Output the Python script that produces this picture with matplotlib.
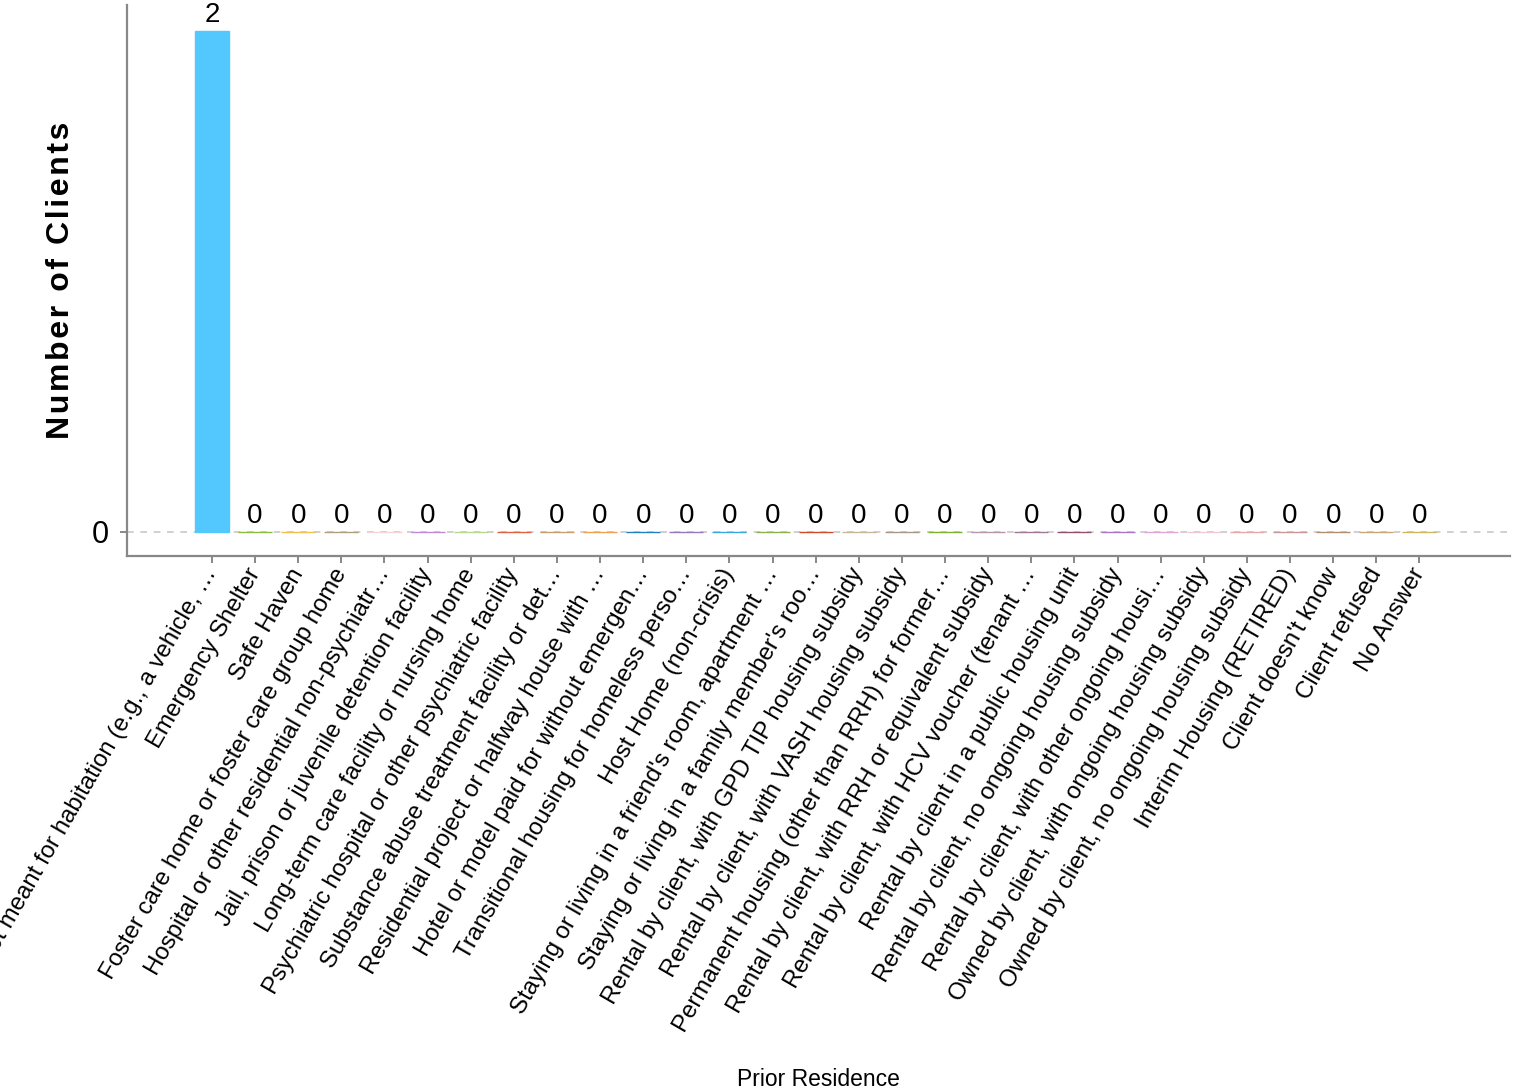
import numpy as np
import matplotlib
matplotlib.use("Agg")
import matplotlib.pyplot as plt

plt.rcParams['font.family'] = ['Liberation Sans', 'DejaVu Sans']

# --- data ---
categories = [
    "Place not meant for habitation (e.g., a vehicle, …",
    "Emergency Shelter",
    "Safe Haven",
    "Foster care home or foster care group home",
    "Hospital or other residential non-psychiatr…",
    "Jail, prison or juvenile detention facility",
    "Long-term care facility or nursing home",
    "Psychiatric hospital or other psychiatric facility",
    "Substance abuse treatment facility or det…",
    "Residential project or halfway house with …",
    "Hotel or motel paid for without emergen…",
    "Transitional housing for homeless perso…",
    "Host Home (non-crisis)",
    "Staying or living in a friend's room, apartment …",
    "Staying or living in a family member's roo…",
    "Rental by client, with GPD TIP housing subsidy",
    "Rental by client, with VASH housing subsidy",
    "Permanent housing (other than RRH) for former…",
    "Rental by client, with RRH or equivalent subsidy",
    "Rental by client, with HCV voucher (tenant …",
    "Rental by client in a public housing unit",
    "Rental by client, no ongoing housing subsidy",
    "Rental by client, with other ongoing housi…",
    "Owned by client, with ongoing housing subsidy",
    "Owned by client, no ongoing housing subsidy",
    "Interim Housing (RETIRED)",
    "Client doesn't know",
    "Client refused",
    "No Answer",
]
clients = [2, 0, 0, 0, 0, 0, 0, 0, 0, 0, 0, 0, 0, 0, 0, 0, 0, 0, 0, 0, 0, 0, 0, 0, 0, 0, 0, 0, 0]

bar_colors = [
    '#52c8ff', '#8cbc48', '#f0c050', '#b0a080', '#f5d5d8', '#c08ad8',
    '#b8d890', '#e06040', '#c8a070', '#f0a050', '#2080c0', '#9878b8',
    '#38a8d8', '#90b050', '#d04a2a', '#c8b898', '#a89888', '#80b030',
    '#b898a8', '#a07898', '#905070', '#a878c0', '#e0a8d8', '#f0c8d8',
    '#e8a8a8', '#c89898', '#b09070', '#c8a878', '#d0b860',
]

# --- plot ---
fig = plt.figure(figsize=(15.16, 10.90), dpi=100)
ax = fig.add_axes([0.0838, 0.4899, 0.9122, 0.5055])

x = np.arange(len(categories))
bars = ax.bar(x, clients, width=0.79, color=bar_colors, edgecolor=bar_colors,
              linewidth=1.0, zorder=3)
ax.bar_label(bars, labels=[str(v) for v in clients], padding=2, fontsize=20, color='black')

# dashed reference line at zero
ax.axhline(0, color='#c8c8c8', lw=1.2, ls=(0, (4, 4)), zorder=1)

ax.set_xlim(-1.97, 30.1)
ax.set_ylim(-0.096, 2.104)
ax.set_yticks([0])
ax.set_yticklabels(['0'], fontsize=22)

ax.set_xticks(x)
ax.set_xticklabels(categories, rotation=60, ha='right', va='center',
                   rotation_mode='anchor', fontsize=17.3)

for side in ['top', 'right']:
    ax.spines[side].set_visible(False)
for side in ['left', 'bottom']:
    ax.spines[side].set_color('#888888')
    ax.spines[side].set_linewidth(1.6)
ax.tick_params(axis='x', length=5, width=1.4, color='#888888', pad=5)
ax.tick_params(axis='y', length=5, width=1.4, color='#888888', pad=8)

# letter-spaced bold axis title
ylabel_text = '\u200a'.join('Number of Clients')
ax.set_ylabel(ylabel_text, fontsize=23, fontweight='bold')
ax.yaxis.set_label_coords(-0.037, 0.5)
ax.set_xlabel('Prior Residence', fontsize=16.5)
ax.xaxis.set_label_coords(0.5, -0.929)

fig.savefig('out.png', dpi=100)
